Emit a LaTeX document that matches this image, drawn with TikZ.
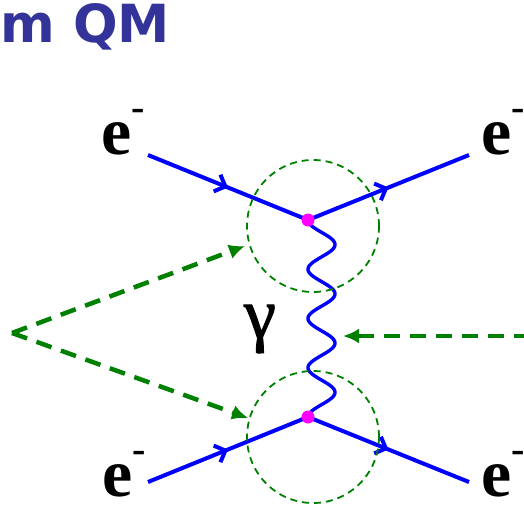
\documentclass[tikz,border=0pt]{standalone}
\usepackage{fontspec}
\setmainfont{Liberation Serif}
\newfontfamily\titlefont{DejaVu Sans}
\newfontfamily\gammafont[FakeBold=1.5]{Liberation Serif}
\usetikzlibrary{arrows.meta,decorations.markings}
\definecolor{titleblue}{RGB}{51,51,153}
\definecolor{dgreen}{RGB}{0,128,0}
\definecolor{vmagenta}{RGB}{255,0,255}
\begin{document}
\begin{tikzpicture}[x=1pt,y=-1pt,
  fermion/.style={draw=blue, line width=4pt, postaction={decorate},
    decoration={markings, mark=at position 0.5 with {\arrow{Straight Barb[length=9pt,width=18pt]}}}},
  photon/.style={draw=blue, line width=3.4pt, line join=round},
  vertexdot/.style={circle, fill=vmagenta, inner sep=0pt, minimum size=13pt},
  loopcircle/.style={circle, draw=dgreen, line width=1.8pt, dash pattern=on 7pt off 5pt, inner sep=0pt, minimum size=132pt},
  greenarrow/.style={draw=dgreen, line width=4.5pt, dash pattern=on 16pt off 10pt, -{Latex[length=16pt,width=15pt]}},
  elabel/.style={inner sep=0pt, font=\fontsize{68}{68}\selectfont\bfseries}]
\useasboundingbox (0,0) rectangle (524,505);
% title
\node[anchor=base west, inner sep=0pt, text=titleblue, font=\titlefont\bfseries\fontsize{52.5}{52.5}\selectfont] (title) at (0,43) {m QM};
% coordinates
\coordinate (v1) at (308,220);
\coordinate (v2) at (308,417);
\coordinate (a) at (148,155);
\coordinate (b) at (469,155);
\coordinate (c) at (148,482);
\coordinate (d) at (469,482);
\coordinate (p) at (12,333);
\coordinate (t1) at (245,246);
\coordinate (t2) at (248,418);
\coordinate (r) at (530,336);
\coordinate (t3) at (343,336);
% labels
\node[elabel, anchor=base west] (e1) at (101,155) {e\raisebox{34pt}{\fontsize{40}{40}\selectfont -}};
\node[elabel, anchor=base west] (e2) at (481,155) {e\raisebox{34pt}{\fontsize{40}{40}\selectfont -}};
\node[elabel, anchor=base west] (e3) at (102,496) {e\raisebox{34pt}{\fontsize{40}{40}\selectfont -}};
\node[elabel, anchor=base west] (e4) at (481,496) {e\raisebox{34pt}{\fontsize{40}{40}\selectfont -}};
\node[inner sep=0pt, font=\gammafont\fontsize{72}{72}\selectfont] (g) at (260,329) {γ};
% electron lines
\draw[fermion] (a) -- (v1);
\draw[fermion] (v1) -- (b);
\draw[fermion] (c) -- (v2);
\draw[fermion] (v2) -- (d);
% photon
\draw[photon] (v1) -- plot[domain=0:1, samples=240] ({321.5-13.5*cos(1440*\x)}, {220+197*\x}) -- (v2);
% circles
\node[loopcircle] (c1) at (313,226) {};
\node[loopcircle] (c2) at (313,437) {};
% green arrows
\draw[greenarrow] (p) -- (t1);
\draw[greenarrow] (p) -- (t2);
\draw[greenarrow] (r) -- (t3);
% vertices
\node[vertexdot] (d1) at (v1) {};
\node[vertexdot] (d2) at (v2) {};
\end{tikzpicture}
\end{document}
